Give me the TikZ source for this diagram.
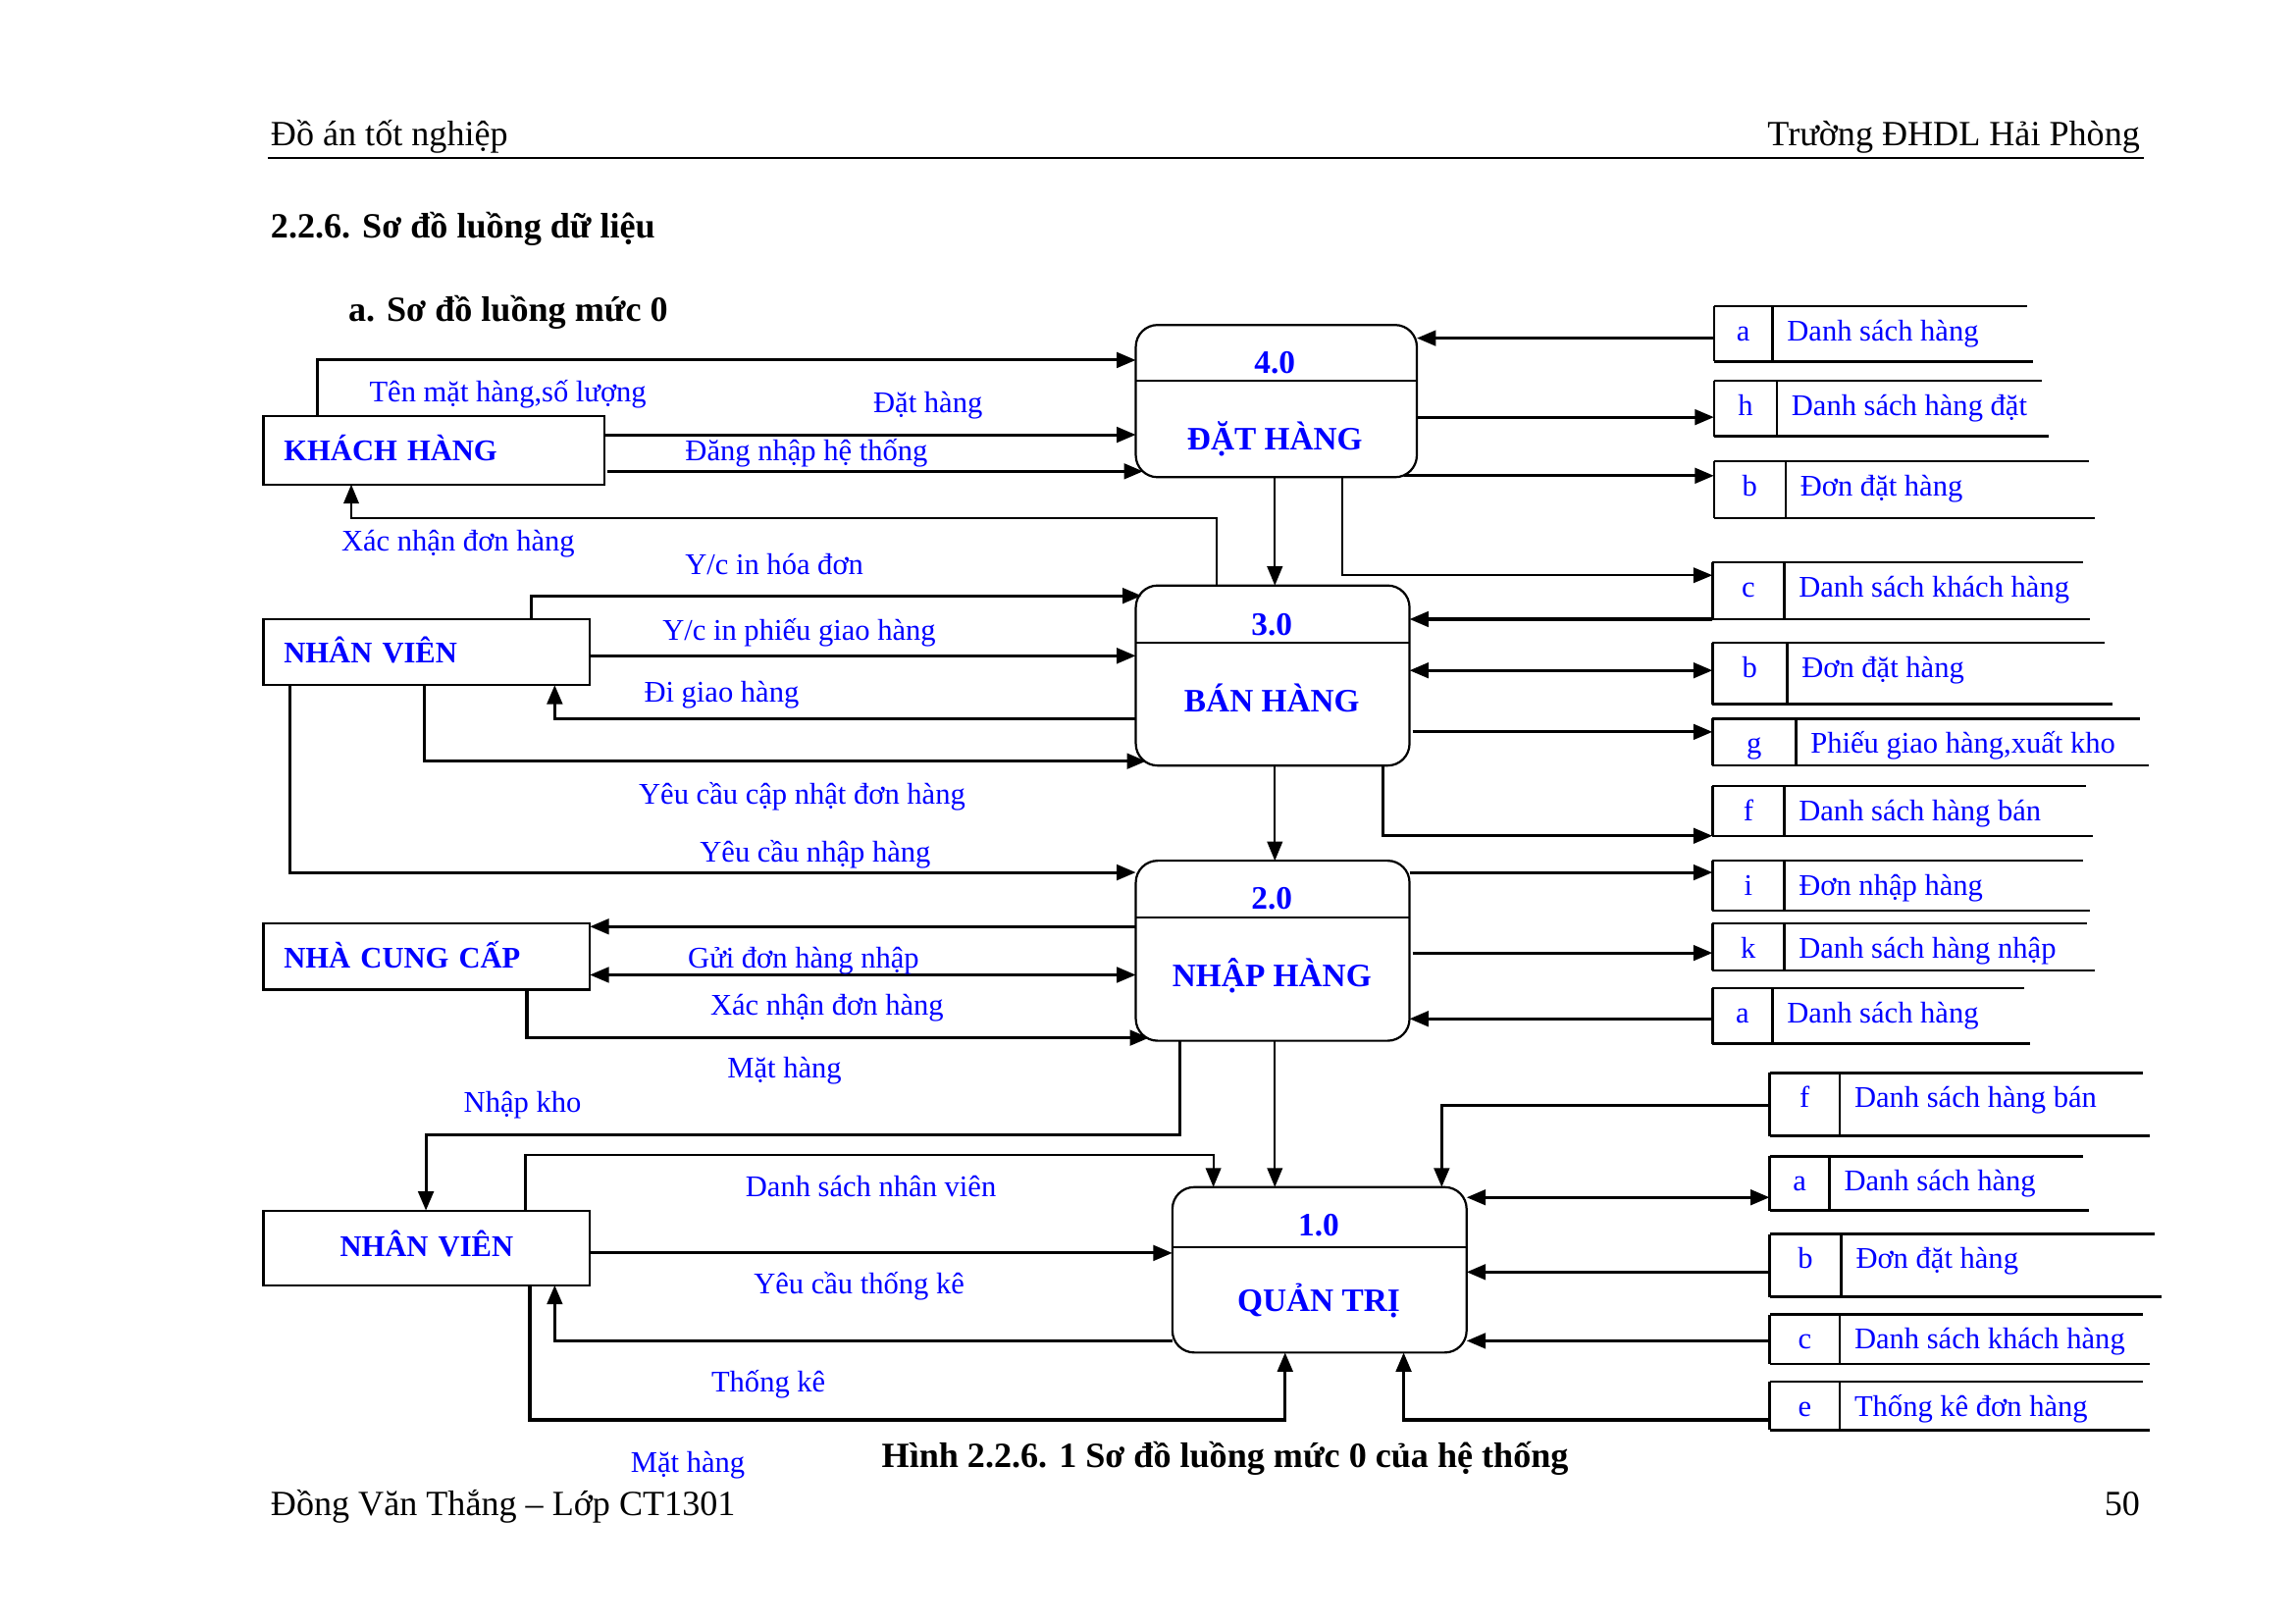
\documentclass[tikz,border=0pt]{standalone}
\usepackage{fontspec}
\setmainfont{Liberation Serif}
\usetikzlibrary{arrows.meta,calc}
\def\U{0.537pt}
\definecolor{lblue}{RGB}{0,0,255}
\newcommand\dstore[9]{%
  \coordinate (#1) at (#2,{(#3+#4)/2});
  \draw[sline] (#2,#3) -- (#6,#3);
  \draw[sline] (#2,#4) -- (#7,#4);
  \draw[sline] (#2,#3) -- (#2,#4);
  \draw[sline] (#5,#3) -- (#5,#4);
  \node[lbl] (#1l) at ({(#2+#5)/2},{#3+16}) {#8};
  \node[lbl,anchor=west] (#1t) at ({#5+10},{#3+16}) {#9};
}
\begin{document}
\begin{tikzpicture}[x=0.537pt,y=-0.537pt,
  every node/.style={inner sep=0pt, outer sep=0pt},
  lbl/.style={text=lblue, font=\fontsize{11}{13}\selectfont, text height=0.72em, text depth=0.22em, yshift=-1.6pt},
  ent/.style={draw, line width=0.8pt, text=lblue, font=\bfseries\fontsize{11}{13}\selectfont, align=left, inner xsep=14*\U},
  proc/.style={draw, line width=0.8pt, rounded corners=8pt},
  ptxt/.style={text=lblue, font=\bfseries\fontsize{12}{14}\selectfont, text height=0.72em, text depth=0.22em, yshift=-1.9pt},
  flow/.style={line width=1.1pt, -{Triangle[length=7pt,width=5.6pt]}},
  flowb/.style={line width=1.1pt, {Triangle[length=7pt,width=5.6pt]}-{Triangle[length=7pt,width=5.6pt]}},
  thinflow/.style={line width=0.75pt, -{Triangle[length=7pt,width=5.6pt]}},
  sline/.style={line width=0.85pt},
  hdr/.style={font=\fontsize{13}{15}\selectfont, text height=0.72em, text depth=0.22em, yshift=-1.6pt},
  hdrb/.style={font=\bfseries\fontsize{13}{15}\selectfont, text height=0.72em, text depth=0.22em, yshift=-1.6pt},
]
\fill[white] (0,0) rectangle (1568,1109);
\useasboundingbox (0,0) rectangle (1568,1109);

% header / footer
\node[hdr,anchor=west] (h1) at (185,92) {Đồ án tốt nghiệp};
\node[hdr,anchor=east] (h2) at (1462,92) {Trường ĐHDL Hải Phòng};
\draw[line width=0.6pt] (183,108) -- (1465,108);
\node[hdrb,anchor=west] (t1) at (185,155) {2.2.6. Sơ đồ luồng dữ liệu};
\node[hdrb,anchor=west] (t2) at (238,212) {a. Sơ đồ luồng mức 0};
\node[hdrb] (cap) at (837,995) {Hình 2.2.6. 1 Sơ đồ luồng mức 0 của hệ thống};
\node[hdr,anchor=west] (ft) at (185,1028) {Đồng Văn Thắng – Lớp CT1301};
\node[hdr,anchor=east] (pg) at (1462,1028) {50};

% entities
\node[ent, minimum height=47*\U, text width=205*\U] (kh) at (296.5,307.5) {\raisebox{1.6pt}{KHÁCH HÀNG}};
\node[ent, minimum height=45*\U, text width=195*\U] (nv1) at (291.5,445.5) {\raisebox{2pt}{NHÂN VIÊN}};
\node[ent, minimum height=45*\U, text width=195*\U] (ncc) at (291.5,653.5) {\raisebox{1.6pt}{NHÀ CUNG CẤP}};
\node[ent, minimum height=51*\U, text width=195*\U, align=center] (nv2) at (291.5,852.5) {\raisebox{3pt}{NHÂN VIÊN}};

% processes
\node[proc, minimum width=192*\U, minimum height=104*\U] (p4) at (872,274) {};
\draw[sline] (p4.west |- 0,260) -- (p4.east |- 0,260);
\node[ptxt] (p4n) at (871,247) {4.0};
\node[ptxt] (p4t) at (871,299) {ĐẶT HÀNG};

\node[proc, minimum width=187*\U, minimum height=123*\U] (p3) at (869.5,461.5) {};
\draw[sline] (p3.west |- 0,439) -- (p3.east |- 0,439);
\node[ptxt] (p3n) at (869,426) {3.0};
\node[ptxt] (p3t) at (869,478) {BÁN HÀNG};

\node[proc, minimum width=187*\U, minimum height=123*\U] (p2) at (869.5,649.5) {};
\draw[sline] (p2.west |- 0,627) -- (p2.east |- 0,627);
\node[ptxt] (p2n) at (869,613) {2.0};
\node[ptxt] (p2t) at (869,666) {NHẬP HÀNG};

\node[proc, minimum width=201*\U, minimum height=113*\U] (p1) at (901.5,867.5) {};
\draw[sline] (p1.west |- 0,852) -- (p1.east |- 0,852);
\node[ptxt] (p1n) at (901,836) {1.0};
\node[ptxt] (p1t) at (901,888) {QUẢN TRỊ};

% data stores
\dstore{s1}{1171}{209}{247}{1211}{1385}{1389}{a}{Danh sách hàng}
\dstore{s2}{1171}{260}{298}{1214}{1395}{1400}{h}{Danh sách hàng đặt}
\dstore{s3}{1171}{315}{354}{1220}{1427}{1431}{b}{Đơn đặt hàng}
\dstore{s4}{1170}{384}{423}{1219}{1423}{1428}{c}{Danh sách khách hàng}
\dstore{s5}{1170}{439}{481}{1221}{1438}{1443}{b}{Đơn đặt hàng}
\dstore{s6}{1170}{491}{523}{1227}{1462}{1468}{g}{Phiếu giao hàng,xuất kho}
\dstore{s7}{1170}{537}{571}{1219}{1425}{1430}{f}{Danh sách hàng bán}
\dstore{s8}{1170}{588}{622}{1219}{1423}{1428}{i}{Đơn nhập hàng}
\dstore{s9}{1170}{631}{663}{1219}{1426}{1431}{k}{Danh sách hàng nhập}
\dstore{s10}{1170}{675}{713}{1211}{1383}{1387}{a}{Danh sách hàng}
\dstore{s11}{1209}{733}{776}{1257}{1464}{1469}{f}{Danh sách hàng bán}
\dstore{s12}{1209}{790}{827}{1250}{1423}{1427}{a}{Danh sách hàng}
\dstore{s13}{1209}{843}{886}{1258}{1472}{1477}{b}{Đơn đặt hàng}
\dstore{s14}{1209}{898}{932}{1257}{1464}{1469}{c}{Danh sách khách hàng}
\dstore{s15}{1209}{944}{977}{1257}{1464}{1469}{e}{Thống kê đơn hàng}

% flows: KHÁCH HÀNG
\draw[flow] (kh.north -| 217,0) -- (217,246) -- (p4.west |- 0,246);
\draw[flow] (kh.east |- 0,297) -- (p4.west |- 0,297);
\draw[flow] ($(kh.east |- 0,322)+(2,0)$) -- ($(p4.west |- 0,322)+(5,0)$);
\draw[thinflow] (p3.north -| 831,0) -- (831,354) -- (240,354) -- (kh.south -| 240,0);
\node[lbl] (l1) at (347,267) {Tên mặt hàng,số lượng};
\node[lbl] (l2) at (634,274) {Đặt hàng};
\node[lbl] (l3) at (551,307) {Đăng nhập hệ thống};
\node[lbl] (l4) at (313,369) {Xác nhận đơn hàng};

% flows: NHÂN VIÊN 1
\draw[flow] (nv1.north -| 363,0) -- (363,407) -- ($(p3.west |- 0,407)+(4,0)$);
\draw[flow] (nv1.east |- 0,448) -- (p3.west |- 0,448);
\draw[flow] (p3.west |- 0,491) -- (379,491) -- (nv1.south -| 379,0);
\draw[flow] (nv1.south -| 290,0) -- (290,520) -- ($(p3.west |- 0,520)+(7,0)$);
\draw[flow] (nv1.south -| 198,0) -- (198,596) -- (p2.west |- 0,596);
\node[lbl] (l5) at (529,385) {Y/c in hóa đơn};
\node[lbl] (l6) at (546,430) {Y/c in phiếu giao hàng};
\node[lbl] (l7) at (493,472) {Đi giao hàng};
\node[lbl] (l8) at (548,542) {Yêu cầu cập nhật đơn hàng};
\node[lbl] (l9) at (557,581) {Yêu cầu nhập hàng};

% flows: NHÀ CUNG CẤP
\draw[flow] (p2.west |- 0,633) -- (ncc.east |- 0,633);
\draw[flowb] (ncc.east |- 0,666) -- (p2.west |- 0,666);
\draw[flow] (ncc.south -| 360,0) -- (360,709) -- ($(p2.west |- 0,709)+(9,0)$);
\node[lbl] (l10) at (549,654) {Gửi đơn hàng nhập};
\node[lbl] (l11) at (565,686) {Xác nhận đơn hàng};
\node[lbl] (l12) at (536,729) {Mặt hàng};

% flows: NHÂN VIÊN 2
\draw[flow] (p2.south -| 806,0) -- (806,775) -- (291,775) -- (nv2.north -| 291,0);
\draw[thinflow] (nv2.north -| 359,0) -- (359,789) -- (829,789) -- (p1.north -| 829,0);
\draw[flow] (nv2.east |- 0,856) -- (p1.west |- 0,856);
\draw[flow] (p1.west |- 0,916) -- (379,916) -- (nv2.south -| 379,0);
\draw[flow] (nv2.south -| 362,0) -- (362,970) -- (878,970) -- (p1.south -| 878,0);
\node[lbl] (l13) at (357,752) {Nhập kho};
\node[lbl] (l14) at (595,810) {Danh sách nhân viên};
\node[lbl] (l15) at (587,876) {Yêu cầu thống kê};
\node[lbl] (l16) at (525,943) {Thống kê};
\node[lbl] (l17) at (470,998) {Mặt hàng};

% process to process
\draw[thinflow] (p4.south -| 871,0) -- (p3.north -| 871,0);
\draw[thinflow] (p3.south -| 871,0) -- (p2.north -| 871,0);
\draw[thinflow] (p2.south -| 871,0) -- (p1.north -| 871,0);

% stores <-> 4.0
\draw[flow] (s1 |- 0,231) -- (p4.east |- 0,231);
\draw[flow] (p4.east |- 0,285) -- (s2 |- 0,285);
\draw[flow] ($(p4.east |- 0,325)+(-9,0)$) -- (s3 |- 0,325);
\draw[thinflow] (p4.south -| 917,0) -- (917,393) -- (s4 |- 0,393);

% stores <-> 3.0
\draw[flow] (s4 |- 0,423) -- (p3.east |- 0,423);
\draw[flowb] (p3.east |- 0,458) -- (s5 |- 0,458);
\draw[flow] ($(p3.east |- 0,500)+(2,0)$) -- (s6 |- 0,500);
\draw[flow] (p3.south -| 945,0) -- (945,571) -- (s7 |- 0,571);

% stores <-> 2.0
\draw[flow] (p2.east |- 0,596) -- (s8 |- 0,596);
\draw[flow] ($(p2.east |- 0,651)+(2,0)$) -- (s9 |- 0,651);
\draw[flow] (s10 |- 0,696) -- (p2.east |- 0,696);

% stores <-> 1.0
\draw[flow] (s11 |- 0,755) -- (985,755) -- (p1.north -| 985,0);
\draw[flowb] (p1.east |- 0,818) -- (s12 |- 0,818);
\draw[flow] (s13 |- 0,869) -- (p1.east |- 0,869);
\draw[flow] (s14 |- 0,916) -- (p1.east |- 0,916);
\draw[flow] (s15 |- 0,970) -- (959,970) -- (p1.south -| 959,0);
\end{tikzpicture}
\end{document}
